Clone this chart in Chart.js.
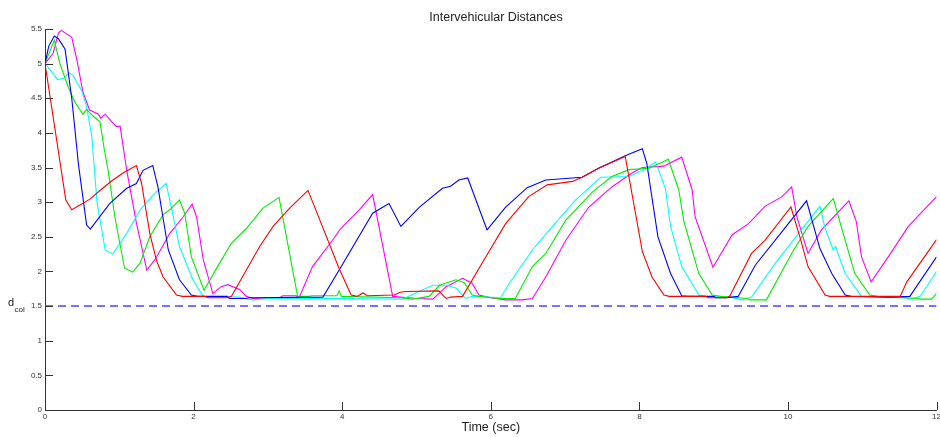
<!DOCTYPE html>
<html>
<head>
<meta charset="utf-8">
<title>Intervehicular Distances</title>
<script src="https://cdn.jsdelivr.net/npm/chart.js@4.4.1/dist/chart.umd.min.js"></script>
<style>
  html, body { margin: 0; padding: 0; background: #fff; overflow: hidden; }
  canvas { display: block; }
</style>
</head>
<body>
<canvas id="distChart" width="943" height="437"></canvas>
<script>
// axis ticks
const xTicks = [0, 2, 4, 6, 8, 10, 12];
const yTicks = [0, 0.5, 1, 1.5, 2, 2.5, 3, 3.5, 4, 4.5, 5, 5.5];

// collision distance threshold
const dCol = 1.5;

// vehicle 1 (red)
const redT = [0, 0.28, 0.36, 0.60, 0.72, 0.90, 1.05, 1.23, 1.30, 1.41, 1.50, 1.59, 1.77, 1.85, 2.15, 2.20, 2.44, 2.51, 2.71, 2.89, 3.07, 3.29, 3.54, 3.96, 4.12, 4.20, 4.28, 4.34, 4.70, 4.78, 4.86, 5.30, 5.36, 5.40, 5.46, 5.62, 5.91, 6.20, 6.51, 6.76, 7.10, 7.23, 7.45, 7.81, 8.04, 8.17, 8.33, 8.40, 8.89, 8.93, 9.18, 9.22, 9.51, 9.69, 10.04, 10.16, 10.27, 10.50, 10.56, 11.22, 11.51, 11.60, 12.0];
const redV = [5.0, 3.03, 2.89, 3.04, 3.15, 3.31, 3.42, 3.53, 3.27, 2.55, 2.16, 1.92, 1.66, 1.64, 1.64, 1.62, 1.62, 1.64, 2.02, 2.36, 2.65, 2.91, 3.17, 2.04, 1.66, 1.64, 1.69, 1.65, 1.66, 1.70, 1.71, 1.72, 1.65, 1.61, 1.63, 1.64, 2.17, 2.69, 3.08, 3.25, 3.30, 3.36, 3.49, 3.66, 2.29, 1.92, 1.66, 1.64, 1.64, 1.62, 1.62, 1.65, 2.26, 2.45, 2.93, 2.50, 2.07, 1.66, 1.64, 1.64, 1.64, 1.85, 2.46];

// vehicle 2 (blue)
const blueT = [0, 0.05, 0.125, 0.18, 0.27, 0.36, 0.45, 0.56, 0.61, 0.87, 1.10, 1.23, 1.32, 1.45, 1.52, 1.66, 1.81, 1.97, 2.05, 2.45, 2.48, 2.70, 2.75, 3.74, 3.96, 4.41, 4.63, 4.79, 5.04, 5.35, 5.46, 5.57, 5.69, 5.95, 6.20, 6.49, 6.74, 7.23, 7.45, 7.81, 8.04, 8.10, 8.25, 8.42, 8.57, 8.65, 9.00, 9.03, 9.16, 9.33, 9.56, 10.25, 10.43, 10.59, 10.77, 10.85, 11.35, 11.64, 12.0];
const blueV = [5.0, 5.25, 5.40, 5.36, 5.21, 4.50, 3.55, 2.67, 2.61, 2.98, 3.20, 3.27, 3.46, 3.53, 3.22, 2.31, 1.88, 1.66, 1.64, 1.64, 1.61, 1.61, 1.62, 1.63, 2.02, 2.84, 2.98, 2.65, 2.93, 3.20, 3.23, 3.32, 3.35, 2.60, 2.93, 3.21, 3.32, 3.36, 3.49, 3.67, 3.77, 3.56, 2.50, 1.97, 1.65, 1.64, 1.64, 1.62, 1.62, 1.64, 2.09, 3.02, 2.33, 1.97, 1.66, 1.64, 1.63, 1.64, 2.21];

// vehicle 3 (green)
const greenT = [0, 0.125, 0.20, 0.31, 0.40, 0.51, 0.56, 0.65, 0.74, 0.80, 0.85, 0.94, 1.07, 1.18, 1.28, 1.41, 1.59, 1.70, 1.81, 1.88, 1.97, 2.14, 2.35, 2.51, 2.71, 2.93, 3.15, 3.40, 3.55, 3.60, 3.93, 3.96, 3.99, 4.80, 4.95, 5.17, 5.31, 5.53, 5.64, 5.75, 5.84, 6.11, 6.33, 6.56, 6.74, 7.01, 7.37, 7.63, 7.86, 8.13, 8.39, 8.53, 8.60, 8.80, 8.98, 9.10, 9.45, 9.49, 9.71, 10.05, 10.27, 10.61, 10.77, 10.90, 11.10, 11.20, 11.75, 11.78, 11.93, 12.0];
const greenV = [5.0, 5.34, 5.0, 4.67, 4.45, 4.27, 4.34, 4.24, 4.16, 3.75, 3.46, 2.79, 2.05, 1.99, 2.12, 2.50, 2.82, 2.91, 3.03, 2.84, 2.21, 1.73, 2.12, 2.41, 2.62, 2.91, 3.07, 1.64, 1.64, 1.65, 1.65, 1.72, 1.64, 1.62, 1.60, 1.64, 1.80, 1.88, 1.84, 1.66, 1.64, 1.61, 1.61, 2.07, 2.26, 2.74, 3.15, 3.37, 3.47, 3.49, 3.62, 3.18, 2.72, 1.97, 1.66, 1.64, 1.61, 1.59, 1.59, 2.26, 2.65, 3.05, 2.45, 1.97, 1.66, 1.64, 1.61, 1.60, 1.60, 1.68];

// vehicle 4 (cyan)
const cyanT = [0, 0.09, 0.17, 0.25, 0.33, 0.38, 0.49, 0.56, 0.63, 0.70, 0.81, 0.91, 1.10, 1.28, 1.48, 1.63, 1.70, 1.81, 1.99, 2.13, 2.60, 2.80, 3.00, 3.96, 4.81, 4.99, 5.22, 5.40, 5.53, 5.66, 5.75, 6.13, 6.25, 6.56, 6.83, 7.14, 7.48, 7.86, 8.04, 8.22, 8.35, 8.42, 8.57, 8.80, 8.90, 9.22, 9.38, 9.51, 9.83, 10.43, 10.50, 10.61, 10.64, 10.77, 10.99, 11.60, 11.64, 11.78, 12.0];
const cyanV = [5.0, 4.88, 4.77, 4.79, 4.87, 4.82, 4.62, 4.38, 3.95, 3.00, 2.31, 2.25, 2.55, 2.89, 3.13, 3.27, 2.93, 2.36, 1.88, 1.64, 1.63, 1.59, 1.61, 1.61, 1.60, 1.69, 1.80, 1.80, 1.76, 1.61, 1.64, 1.62, 1.83, 2.31, 2.65, 3.03, 3.36, 3.37, 3.46, 3.58, 3.20, 2.65, 2.07, 1.66, 1.64, 1.63, 1.59, 1.63, 2.12, 2.94, 2.62, 2.31, 2.36, 1.97, 1.64, 1.62, 1.60, 1.64, 2.00];

// vehicle 5 (magenta)
const magentaT = [0, 0.11, 0.18, 0.22, 0.29, 0.36, 0.43, 0.51, 0.60, 0.72, 0.75, 0.81, 0.90, 0.96, 1.01, 1.10, 1.23, 1.37, 1.48, 1.68, 1.86, 1.98, 2.04, 2.13, 2.26, 2.37, 2.46, 2.62, 2.71, 2.80, 3.16, 3.20, 3.38, 3.42, 3.60, 3.87, 3.98, 4.23, 4.41, 4.68, 5.00, 5.22, 5.40, 5.62, 5.75, 5.84, 6.00, 6.20, 6.42, 6.56, 6.74, 7.01, 7.32, 7.63, 7.90, 8.04, 8.33, 8.57, 8.71, 8.75, 8.99, 9.25, 9.47, 9.69, 9.92, 10.05, 10.12, 10.27, 10.45, 10.82, 10.92, 10.99, 11.12, 11.35, 11.62, 12.0];
const magentaV = [5.0, 5.15, 5.44, 5.48, 5.43, 5.38, 5.05, 4.59, 4.33, 4.27, 4.21, 4.27, 4.16, 4.09, 4.10, 3.46, 2.70, 2.02, 2.17, 2.55, 2.79, 2.97, 2.79, 2.17, 1.68, 1.78, 1.81, 1.74, 1.64, 1.61, 1.62, 1.65, 1.65, 1.62, 2.07, 2.45, 2.62, 2.89, 3.11, 1.64, 1.61, 1.60, 1.78, 1.90, 1.83, 1.66, 1.62, 1.59, 1.59, 1.61, 1.92, 2.45, 2.93, 3.22, 3.42, 3.50, 3.52, 3.65, 3.18, 2.79, 2.06, 2.53, 2.69, 2.94, 3.08, 3.22, 2.79, 2.26, 2.60, 3.02, 2.72, 2.21, 1.85, 2.21, 2.65, 3.08];

function toPoints(ts, vs) {
  return ts.map((t, i) => ({ x: t, y: vs[i] }));
}

function series(ts, vs, color) {
  return {
    data: toPoints(ts, vs),
    borderColor: color,
    borderWidth: 1.1,
    pointRadius: 0,
    tension: 0,
    fill: false
  };
}

const fontFamily = '"Liberation Sans", Arial, Helvetica, sans-serif';

// matlab-style inward ticks plus the title and axis labels
const figureDecor = {
  id: 'figureDecor',
  afterDraw(chart) {
    const { ctx, chartArea, scales } = chart;
    const tickLen = 8;
    ctx.save();
    ctx.strokeStyle = '#333';
    ctx.lineWidth = 1;
    ctx.beginPath();
    xTicks.forEach(v => {
      const px = Math.round(scales.x.getPixelForValue(v)) + 0.5;
      ctx.moveTo(px, chartArea.bottom);
      ctx.lineTo(px, chartArea.bottom - tickLen);
    });
    yTicks.forEach(v => {
      const py = Math.round(scales.y.getPixelForValue(v)) + 0.5;
      ctx.moveTo(chartArea.left, py);
      ctx.lineTo(chartArea.left + tickLen, py);
    });
    ctx.stroke();

    ctx.fillStyle = '#222';
    ctx.textAlign = 'center';
    ctx.textBaseline = 'middle';
    ctx.font = '12.5px ' + fontFamily;
    ctx.fillText('Intervehicular Distances', 496, 17.5);
    ctx.fillText('Time (sec)', (chartArea.left + chartArea.right) / 2, 428);

    // d_col, written horizontally next to the threshold
    const yLab = scales.y.getPixelForValue(dCol);
    ctx.textAlign = 'left';
    ctx.textBaseline = 'alphabetic';
    ctx.font = '11px ' + fontFamily;
    ctx.fillText('d', 8, yLab - 0.5);
    ctx.font = '8px ' + fontFamily;
    ctx.fillText('col', 14.5, yLab + 6);
    ctx.restore();
  }
};

new Chart(document.getElementById('distChart'), {
  type: 'line',
  data: {
    datasets: [
      {
        data: [{ x: xTicks[0], y: dCol }, { x: xTicks[xTicks.length - 1], y: dCol }],
        borderColor: 'rgba(70, 70, 255, 0.75)',
        borderWidth: 2,
        borderDash: [8, 5],
        pointRadius: 0,
        fill: false
      },
      series(redT, redV, '#ff0000'),
      series(blueT, blueV, '#0000ff'),
      series(greenT, greenV, '#00ee00'),
      series(cyanT, cyanV, '#00ffff'),
      series(magentaT, magentaV, '#ff00ff')
    ]
  },
  options: {
    responsive: false,
    animation: false,
    layout: { padding: { top: 29, right: 4, bottom: 0, left: 0 } },
    plugins: {
      legend: { display: false },
      tooltip: { enabled: false }
    },
    scales: {
      x: {
        type: 'linear',
        min: 0,
        max: 12,
        afterBuildTicks: s => { s.ticks = xTicks.map(v => ({ value: v })); },
        afterFit: s => { s.height = 27; },
        grid: { display: false, drawTicks: false },
        border: { display: true, color: '#333', width: 1 },
        ticks: {
          padding: 2,
          maxRotation: 0,
          color: '#333',
          font: { family: fontFamily, size: 8 },
          callback: v => String(v)
        }
      },
      y: {
        type: 'linear',
        min: 0,
        max: 5.5,
        afterBuildTicks: s => { s.ticks = yTicks.map(v => ({ value: v })); },
        afterFit: s => { s.width = 45; },
        grid: { display: false, drawTicks: false },
        border: { display: true, color: '#333', width: 1 },
        ticks: {
          padding: 3,
          color: '#333',
          font: { family: fontFamily, size: 8 },
          callback: v => String(v)
        }
      }
    }
  },
  plugins: [figureDecor]
});
</script>
</body>
</html>
